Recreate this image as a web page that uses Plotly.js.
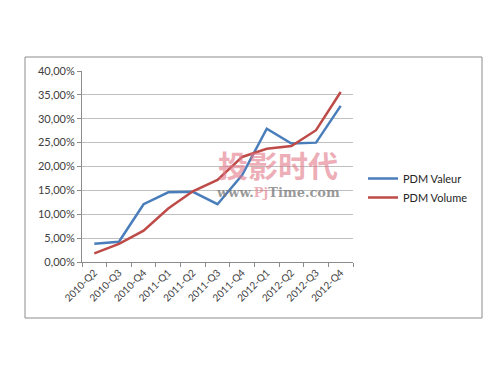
<!DOCTYPE html>
<html>
<head>
<meta charset="utf-8">
<script src="https://cdn.plot.ly/plotly-3.0.1.min.js"></script>
<style>html,body{margin:0;padding:0;background:#fff;}#chart{width:500px;height:375px;}</style>
</head>
<body>
<div id="chart"></div>
<script>
const categories = ["2010-Q2","2010-Q3","2010-Q4","2011-Q1","2011-Q2","2011-Q3","2011-Q4","2012-Q1","2012-Q2","2012-Q3","2012-Q4"];
const pdmValeur = [0.038, 0.0425, 0.121, 0.146, 0.147, 0.121, 0.182, 0.279, 0.248, 0.250, 0.327];
const pdmVolume = [0.018, 0.038, 0.0655, 0.112, 0.148, 0.172, 0.220, 0.237, 0.243, 0.276, 0.356];
const yTicks = [0, 0.05, 0.10, 0.15, 0.20, 0.25, 0.30, 0.35, 0.40];

const traces = [
  {x: categories, y: pdmValeur, name: "PDM Valeur", type: "scatter", mode: "lines",
   line: {color: "#4A7EBB", width: 2.5}},
  {x: categories, y: pdmVolume, name: "PDM Volume", type: "scatter", mode: "lines",
   line: {color: "#BE4B48", width: 2.5}}
];

const L = 82, R = 353, T = 71, B = 262;
const W = R - L, H = B - T;
const px = X => (X - L) / W;
const py = Y => (B - Y) / H;

const layout = {
  width: 500, height: 375,
  margin: {l: L, r: 500 - R, t: T, b: 375 - B},
  paper_bgcolor: "#fff", plot_bgcolor: "#fff",
  separators: ", ",
  font: {family: "Lato, 'Open Sans', sans-serif", size: 10, color: "#404040"},
  showlegend: true,
  legend: {x: px(363), xanchor: "left", y: py(188), yanchor: "middle",
           font: {size: 11, color: "#262626"}, bgcolor: "rgba(0,0,0,0)",
           itemwidth: 30, tracegroupgap: 4},
  xaxis: {type: "category", range: [-0.5, 10.5], tickangle: -45, showgrid: false,
          showline: true, linecolor: "#8c8c8c", linewidth: 1,
          ticks: "outside", ticklen: 4, tickcolor: "#8c8c8c", tickson: "boundaries",
          tickfont: {size: 10, color: "#404040"}, zeroline: false, fixedrange: true},
  yaxis: {range: [0, 0.4], tickvals: yTicks, tickformat: ".2%", showgrid: true,
          gridcolor: "#bfbfbf", gridwidth: 1, showline: true, linecolor: "#8c8c8c",
          ticks: "outside", ticklen: 4, tickcolor: "#8c8c8c", zeroline: false,
          tickfont: {size: 11, color: "#404040"}, fixedrange: true},
  shapes: [
    {type: "rect", xref: "paper", yref: "paper",
     x0: px(25), x1: px(482), y0: py(318), y1: py(57),
     line: {color: "#8c8c8c", width: 1}, fillcolor: "rgba(0,0,0,0)", layer: "below"}
  ],
  annotations: [
    {xref: "paper", yref: "paper", x: px(278), y: py(164), xanchor: "center", yanchor: "middle",
     text: "<b>投影时代</b>",
     showarrow: false, font: {family: "'Noto Sans CJK SC', sans-serif", size: 30, color: "rgba(225,120,135,0.6)"}},
    {xref: "paper", yref: "paper", x: px(278), y: py(192), xanchor: "center", yanchor: "middle",
     text: "<b>www.<span style='color:rgba(225,120,135,0.8)'>Pj</span>Time.com</b>",
     showarrow: false, font: {family: "'DejaVu Serif', serif", size: 13, color: "rgba(120,120,120,0.75)"}}
  ]
};

Plotly.newPlot("chart", traces, layout, {displayModeBar: false, staticPlot: true});
</script>
</body>
</html>
